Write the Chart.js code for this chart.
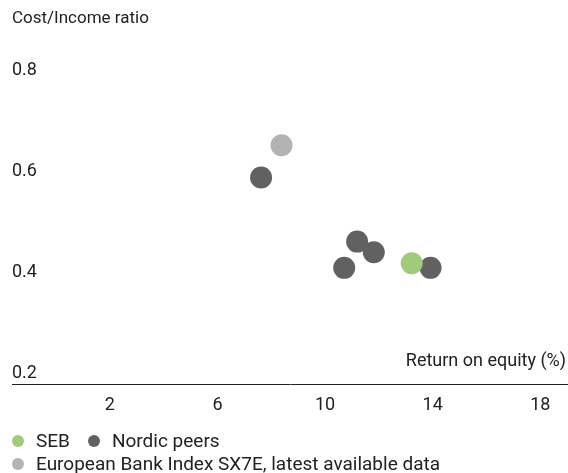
<!DOCTYPE html>
<html>
<head>
<meta charset="utf-8">
<script src="https://cdn.jsdelivr.net/npm/chart.js@4.4.1/dist/chart.umd.min.js"></script>
<style>
  html, body { margin: 0; padding: 0; background: #ffffff; overflow: hidden; }
  #wrap { width: 568px; height: 473px; position: relative; overflow: hidden; font-family: Roboto, "Noto Sans", sans-serif; color: #222222; }
  #chartBox { position: absolute; left: 0; top: 0; width: 568px; height: 430px; }
  #legend { position: absolute; left: 12px; top: 429px; width: 556px; font-size: 19px; line-height: 23px; }
  .row { display: flex; align-items: center; height: 23px; }
  .item { display: flex; align-items: center; margin-right: 18px; }
  .dot { width: 12px; height: 12px; border-radius: 50%; margin-right: 12px; flex: none; }
</style>
</head>
<body>
<div id="wrap">
  <div id="chartBox"><canvas id="c"></canvas></div>
  <div id="legend"></div>
</div>
<script>
// Return on equity (%) and cost/income ratio per bank group
const sebPoints = [[13.22, 0.418]];
const nordicPoints = [[7.62, 0.588], [11.19, 0.461], [11.81, 0.440], [10.71, 0.409], [13.92, 0.409]];
const europePoints = [[8.38, 0.652]];

const seriesNames = ['SEB', 'Nordic peers', 'European Bank Index SX7E, latest available data'];
const seriesColors = ['#a1cb7b', '#616161', '#b3b3b3'];
const legendRows = [[0, 1], [2]];
const xTicks = [2, 6, 10, 14, 18];
const yTicks = [0.2, 0.4, 0.6, 0.8];
const yTitle = 'Cost/Income ratio';
const xTitle = 'Return on equity (%)';

const FONT = 'Roboto, "Noto Sans", sans-serif';
const toXY = arr => arr.map(p => ({ x: p[0], y: p[1] }));

// Legend rows below the plot
const legendEl = document.getElementById('legend');
legendRows.forEach(row => {
  const r = document.createElement('div');
  r.className = 'row';
  row.forEach(i => {
    const it = document.createElement('div');
    it.className = 'item';
    const d = document.createElement('span');
    d.className = 'dot';
    d.style.background = seriesColors[i];
    const t = document.createElement('span');
    t.textContent = seriesNames[i];
    it.appendChild(d);
    it.appendChild(t);
    r.appendChild(it);
  });
  legendEl.appendChild(r);
});

// Draws the x-axis title just above the right end of the axis line
const xTitlePlugin = {
  id: 'xTitle',
  afterDraw(chart) {
    const { ctx, chartArea } = chart;
    ctx.save();
    ctx.font = '18px ' + FONT;
    ctx.fillStyle = '#222222';
    ctx.textAlign = 'right';
    ctx.textBaseline = 'middle';
    ctx.fillText(xTitle, chartArea.right - 2, chartArea.bottom - 23);
    ctx.restore();
  }
};

new Chart(document.getElementById('c'), {
  type: 'scatter',
  data: {
    datasets: [
      { label: seriesNames[1], data: toXY(nordicPoints), backgroundColor: seriesColors[1], order: 2 },
      { label: seriesNames[0], data: toXY(sebPoints), backgroundColor: seriesColors[0], order: 1 },
      { label: seriesNames[2], data: toXY(europePoints), backgroundColor: seriesColors[2], order: 3 }
    ]
  },
  options: {
    responsive: true,
    maintainAspectRatio: false,
    animation: false,
    layout: { autoPadding: false, padding: { left: 12, right: 0, top: 4, bottom: 4 } },
    elements: { point: { radius: 11, hoverRadius: 11, borderWidth: 0, pointStyle: 'circle' } },
    scales: {
      x: {
        type: 'linear',
        min: -1.64,
        max: 19.03,
        afterBuildTicks(scale) { scale.ticks = xTicks.map(v => ({ value: v })); },
        afterFit(scale) { scale.paddingLeft = 0; scale.paddingRight = 0; },
        grid: { display: false, drawTicks: false },
        border: { display: true, color: '#222222', width: 1 },
        ticks: { color: '#222222', font: { family: FONT, size: 18 }, padding: 10, maxRotation: 0 }
      },
      y: {
        type: 'linear',
        min: 0.178,
        max: 0.842,
        afterBuildTicks(scale) { scale.ticks = yTicks.map(v => ({ value: v })); },
        afterFit(scale) { scale.paddingTop = 0; scale.paddingBottom = 0; },
        grid: { display: false, drawTicks: false },
        border: { display: false },
        ticks: {
          mirror: true, padding: 0, color: '#222222',
          font: { family: FONT, size: 18 },
          callback: v => v.toFixed(1)
        }
      }
    },
    plugins: {
      tooltip: { enabled: false },
      legend: { display: false },
      title: {
        display: true, text: yTitle, align: 'start', color: '#222222',
        font: { family: FONT, size: 17, weight: 'normal' },
        padding: { top: 5, bottom: 20 }
      }
    }
  },
  plugins: [xTitlePlugin]
});
</script>
</body>
</html>
